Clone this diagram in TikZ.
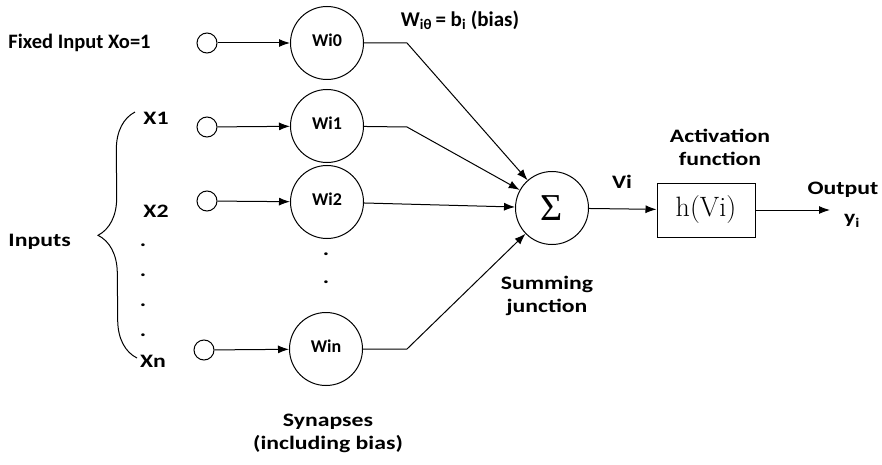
\documentclass[tikz,border=0pt]{standalone}
\usepackage{fontspec}
\newfontfamily\labelfont[FakeStretch=1.25]{Carlito}
\newfontfamily\plainfont{Carlito}
\newfontfamily\sigmafont{Liberation Serif}
\usepackage{tikz}
\usetikzlibrary{arrows.meta,positioning,decorations.pathreplacing}

\begin{document}
\begin{tikzpicture}[
  x=1pt,
  y=-1pt,
  line width=1pt,
  font=\labelfont\bfseries\fontsize{19}{23}\selectfont,
  dot/.style={
    circle,
    draw,
    minimum size=20pt,
    inner sep=0pt
  },
  weight/.style={
    circle,
    draw,
    minimum size=73pt,
    inner sep=0pt,
    text depth=6pt,
    font=\plainfont\bfseries\fontsize{18}{20}\selectfont
  },
  lbl/.style={
    align=center,
    inner sep=0pt
  },
  arr/.style={
    -{Latex[length=11pt,width=8pt]}
  }
]
\useasboundingbox (0,0) rectangle (882,465);
% input dots and synapses
\node[dot] (in0) at (207,43) {};
\node[dot] (in1) at (207,127) {};
\node[dot] (in2) at (207,201) {};
\node[dot] (inn) at (204,350) {};
\node[weight] (w0) at (327,43) {Wi0};
\node[weight] (w1) at (327,126) {Wi1};
\node[weight] (w2) at (327,202) {Wi2};
\node[weight] (wn) at (326,349) {Win};
% summing junction and activation
\node[
  circle,
  draw,
  minimum size=73pt,
  inner sep=0pt,
  font=\sigmafont\fontsize{38}{40}\selectfont
] (sum) at (552,208) {Σ};
\node[
  draw,
  minimum width=98pt,
  minimum height=54pt,
  inner sep=0pt,
  font=\fontsize{28}{30}\selectfont
] (act) at (706,210) {h(Vi)};
\coordinate (out) at (830,210);
% bends
\coordinate (k0) at (407,43);
\coordinate (k1) at (407,127);
\coordinate (kn) at (407,349);
% labels
\node[
  lbl,
  anchor=west,
  font=\plainfont\bfseries\fontsize{20.5}{24}\selectfont
] (fixed) at (8,43) {Fixed Input Xo=1};
\node[lbl, anchor=west] (inputs) at (8,242) {Inputs};
\node[lbl] (x1) at (156,118) {X1};
\node[lbl] (x2) at (156,211) {X2};
\node[lbl] (xn) at (153,361) {Xn};
\node[
  lbl,
  font=\plainfont\bfseries\fontsize{21}{24}\selectfont
] (bias) at (460,20) {W\textsubscript{iθ}\,= b\textsubscript{i} (bias)};
\node[lbl] (vi) at (622,182) {Vi};
\node[lbl] (actlbl) at (720,147) {Activation\\function};
\node[lbl] (outlbl) at (843,190) {Output};
\node[lbl] (yi) at (852,221) {y\textsubscript{i}};
\node[lbl] (sumlbl) at (547,296) {Summing\\junction};
\node[lbl] (syn) at (328,433) {Synapses\\(including bias)};
% dots
\foreach \yy/\nm in {245/a,275/b,305/c,335/d}
  \node[lbl] (vd\nm) at (143,\yy) {.};
\foreach \yy/\nm in {254/a,282/b}
  \node[lbl] (wd\nm) at (326,\yy) {.};
% brace
\coordinate (bt) at (135,112);
\coordinate (bb) at (137,358);
\draw[
  decorate,
  decoration={brace, amplitude=38pt}
] (bb) -- (bt);
% connectors
\draw[arr] (in0) -- (w0);
\draw[arr] (in1) -- (w1);
\draw[arr] (in2) -- (w2);
\draw[arr] (inn) -- (wn);
\draw[arr] (w0) -- (k0) -- (sum);
\draw[arr] (w1) -- (k1) -- (sum);
\draw[arr] (w2) -- (sum);
\draw[arr] (wn) -- (kn) -- (sum);
\draw[arr] (sum) -- (act);
\draw[arr] (act) -- (out);
\end{tikzpicture}
\end{document}
